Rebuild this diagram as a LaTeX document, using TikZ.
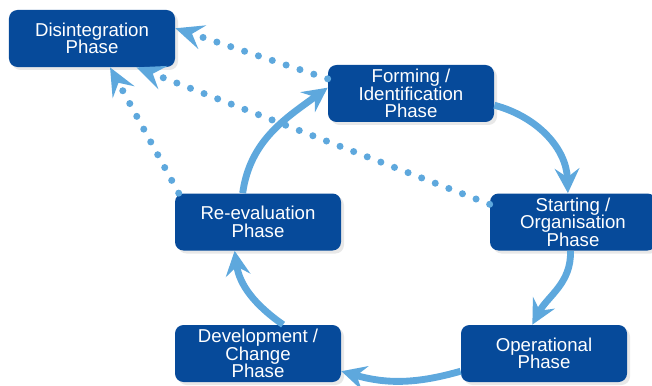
\documentclass[tikz,border=0pt]{standalone}
\usepackage{fontspec}
\setmainfont{Liberation Sans}
\usetikzlibrary{arrows.meta,shadows}
\definecolor{phaseblue}{RGB}{6,74,154}
\definecolor{arrowblue}{RGB}{94,168,221}

\begin{document}
\begin{tikzpicture}[
  phase/.style={rectangle, rounded corners=0.17cm, fill=phaseblue, text=white,
    minimum width=3.32cm, minimum height=1.14cm, align=center, inner sep=1pt,
    font=\fontsize{10.6}{10}\selectfont,
    drop shadow={opacity=0.18, shadow xshift=0.06cm, shadow yshift=-0.06cm}},
  cyclearrow/.style={draw=arrowblue, line width=3.9pt,
    -{Stealth[length=14pt, width=14pt, inset=5pt, fill=arrowblue]}},
  fallback/.style={draw=arrowblue, line width=4pt, line cap=round,
    dash pattern=on 0pt off 8.3pt,
    -{Stealth[length=16pt, width=14pt, inset=6pt, fill=arrowblue]}}
]
\useasboundingbox (0,0) rectangle (13.04,7.7);

% phases
\node[phase] (dis) at (1.84,6.93) {Disintegration\\Phase};
\node[phase] (form) at (8.22,5.83) {Forming /\\Identification\\Phase};
\node[phase] (start) at (11.46,3.26) {Starting /\\Organisation\\Phase};
\node[phase] (op) at (10.88,0.63) {Operational\\Phase};
\node[phase] (dev) at (5.16,0.63) {Development /\\Change\\Phase};
\node[phase] (re) at (5.16,3.26) {Re-evaluation\\Phase};

% the cycle
\draw[cyclearrow] (form.-8) to[out=-15, in=92] (start.100);
\draw[cyclearrow] (start.-95) to[out=-88, in=62] (op.112);
\draw[cyclearrow] (op.192) to[out=196, in=-16] (dev.-12);
\draw[cyclearrow] (dev.49) to[out=145, in=-82] (re.-129);
\draw[cyclearrow] (re.118) to[out=82, in=216] (form.176);

% links to disintegration
\draw[fallback] (form.170) -- (dis.7);
\draw[fallback] (start.168) -- (dis.-33);
\draw[fallback] (re.160) -- (dis.-58);
\end{tikzpicture}
\end{document}
